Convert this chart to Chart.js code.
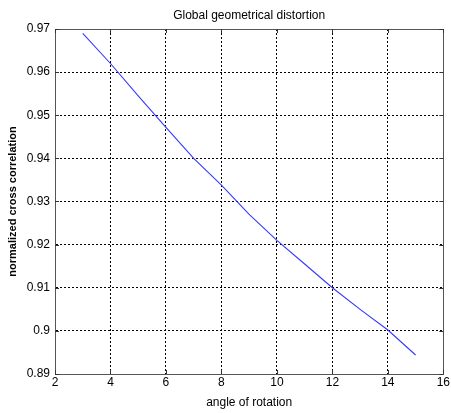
<!DOCTYPE html>
<html>
<head>
<meta charset="utf-8">
<script src="https://cdn.jsdelivr.net/npm/chart.js@4.4.0/dist/chart.umd.min.js"></script>
<style>
html,body{margin:0;padding:0;background:#fff;}
canvas{display:block;}
</style>
</head>
<body>
<canvas id="c" width="451" height="413"></canvas>
<script>
const angles = [3, 4, 5, 6, 7, 8, 9, 10, 11, 12, 13, 14, 15];
const correlation = [0.969, 0.962, 0.9545, 0.9472, 0.9400, 0.9338, 0.9270, 0.9210, 0.9155, 0.9100, 0.9050, 0.9002, 0.8944];
const xTicks = [2, 4, 6, 8, 10, 12, 14, 16];
const yTicks = [0.89, 0.90, 0.91, 0.92, 0.93, 0.94, 0.95, 0.96, 0.97];
const titleText = 'Global geometrical distortion';
const xLabel = 'angle of rotation';
const yLabel = 'normalized cross correlation';

const FONT = '"Liberation Sans", Arial, sans-serif';

const boxPlugin = {
  id: 'box',
  afterDatasetsDraw(chart) {
    const {ctx, chartArea: a, scales} = chart;
    ctx.save();
    ctx.strokeStyle = '#555';
    ctx.lineWidth = 1;
    ctx.setLineDash([]);
    ctx.strokeRect(Math.round(a.left) + 0.5, Math.round(a.top) + 0.5,
                   Math.round(a.right - a.left), Math.round(a.bottom - a.top));
    const tl = 4;
    ctx.strokeStyle = '#333';
    ctx.beginPath();
    xTicks.forEach(v => {
      const x = Math.round(scales.x.getPixelForValue(v)) + 0.5;
      ctx.moveTo(x, a.bottom); ctx.lineTo(x, a.bottom - tl);
      ctx.moveTo(x, a.top); ctx.lineTo(x, a.top + tl);
    });
    yTicks.forEach(v => {
      const y = Math.round(scales.y.getPixelForValue(v)) + 0.5;
      ctx.moveTo(a.left, y); ctx.lineTo(a.left + tl, y);
      ctx.moveTo(a.right, y); ctx.lineTo(a.right - tl, y);
    });
    ctx.stroke();
    ctx.restore();
  }
};

new Chart(document.getElementById('c'), {
  type: 'line',
  data: {
    datasets: [{
      data: angles.map((x, i) => ({x: x, y: correlation[i]})),
      borderColor: '#3838ff',
      borderWidth: 1.1,
      pointRadius: 0,
      tension: 0,
      fill: false
    }]
  },
  options: {
    responsive: false,
    animation: false,
    events: [],
    layout: {padding: {left: 0, right: 5, top: 0, bottom: 0}},
    plugins: {
      legend: {display: false},
      tooltip: {enabled: false},
      title: {
        display: true,
        text: titleText,
        fullSize: false,
        color: '#000',
        font: {family: FONT, size: 12, weight: 'normal'},
        padding: {top: 8, bottom: 6.6}
      }
    },
    scales: {
      x: {
        type: 'linear',
        min: 2, max: 16,
        afterBuildTicks: s => { s.ticks = xTicks.map(v => ({value: v})); },
        afterFit: s => { s.height = 39; },
        grid: {color: '#000', lineWidth: 1, drawTicks: false},
        border: {display: true, color: '#555', width: 1, dash: [2, 2]},
        ticks: {
          color: '#000', padding: 1, maxRotation: 0, autoSkip: false,
          font: {family: FONT, size: 12},
          callback: v => String(v)
        },
        title: {
          display: true, text: xLabel, color: '#000',
          font: {family: FONT, size: 12},
          padding: {top: 0, bottom: 3}
        }
      },
      y: {
        type: 'linear',
        min: 0.89, max: 0.97,
        afterBuildTicks: s => { s.ticks = yTicks.map(v => ({value: v})); },
        afterFit: s => { s.width = 55; },
        grid: {color: '#000', lineWidth: 1, drawTicks: false},
        border: {display: true, color: '#555', width: 1, dash: [2, 2]},
        ticks: {
          color: '#000', padding: 5, autoSkip: false,
          font: {family: FONT, size: 12},
          callback: v => String(Number(v.toFixed(2)))
        },
        title: {
          display: true, text: yLabel, color: '#000',
          font: {family: FONT, size: 11, weight: 'bold'},
          padding: {top: 6, bottom: 0}
        }
      }
    }
  },
  plugins: [boxPlugin]
});
</script>
</body>
</html>
